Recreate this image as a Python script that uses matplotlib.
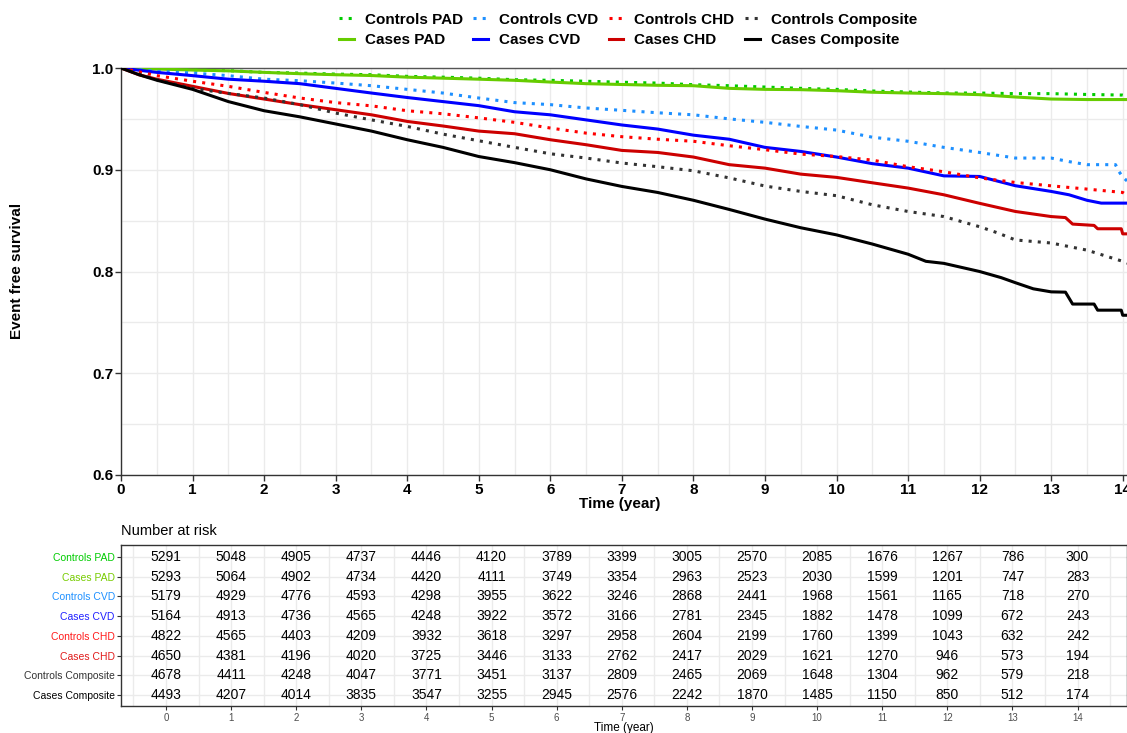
import numpy as np
import matplotlib
matplotlib.use("Agg")
import matplotlib.pyplot as plt
from matplotlib.lines import Line2D

plt.rcParams['font.family'] = ['Liberation Sans', 'DejaVu Sans']

# ---------------- data ----------------
series_names = ["Controls PAD", "Cases PAD", "Controls CVD", "Cases CVD",
                "Controls CHD", "Cases CHD", "Controls Composite", "Cases Composite"]

t_controls_pad = [0, 0.5, 1, 1.5, 2, 2.5, 3, 3.5, 4, 4.5, 5, 5.5, 6, 6.5, 7, 7.5, 8, 8.5, 9, 9.5,
                  10, 10.5, 11, 11.5, 12, 12.5, 13, 13.5, 14, 14.06]
s_controls_pad = [1.0, 0.999, 0.998, 0.9974, 0.9957, 0.995, 0.994, 0.9934, 0.9918, 0.991, 0.990,
                  0.9885, 0.9879, 0.987, 0.986, 0.9852, 0.9836, 0.9826, 0.9813, 0.980, 0.979,
                  0.9774, 0.9764, 0.9754, 0.9754, 0.9748, 0.9748, 0.974, 0.9734, 0.9725]

t_cases_pad = [0, 0.5, 1, 1.5, 2, 2.5, 3, 3.5, 4, 4.5, 5, 5.5, 6, 6.5, 7, 7.5, 8, 8.5, 9, 9.5,
               10, 10.5, 11, 11.5, 12, 12.5, 13, 13.5, 14, 14.06]
s_cases_pad = [1.0, 0.999, 0.998, 0.9972, 0.9957, 0.9944, 0.9934, 0.9926, 0.991, 0.990, 0.989,
               0.9879, 0.9862, 0.9846, 0.9838, 0.983, 0.9826, 0.980, 0.979, 0.9787, 0.9777,
               0.9762, 0.9754, 0.9748, 0.9738, 0.9715, 0.9695, 0.969, 0.969, 0.969]

t_controls_cvd = [0, 0.5, 1, 1.5, 2, 2.5, 3, 3.5, 4, 4.5, 5, 5.5, 6, 6.5, 7, 7.5, 8, 8.5, 9, 9.5,
                  10, 10.5, 11, 11.5, 12, 12.5, 13, 13.25, 13.5, 13.9, 13.95, 14.0, 14.06]
s_controls_cvd = [1.0, 0.9967, 0.995, 0.9925, 0.989, 0.9875, 0.9852, 0.9826, 0.979, 0.9754, 0.9705,
                  0.966, 0.964, 0.9607, 0.9584, 0.956, 0.954, 0.950, 0.9466, 0.9426, 0.939,
                  0.932, 0.928, 0.922, 0.917, 0.9115, 0.9115, 0.908, 0.905, 0.905, 0.898, 0.893, 0.889]

t_cases_cvd = [0, 0.5, 1, 1.5, 2, 2.5, 3, 3.5, 4, 4.5, 5, 5.5, 6, 6.5, 7, 7.5, 8, 8.5, 9, 9.5,
               10, 10.5, 11, 11.5, 12, 12.5, 13, 13.25, 13.5, 13.7, 14.06]
s_cases_cvd = [1.0, 0.9957, 0.9925, 0.989, 0.987, 0.9846, 0.980, 0.9754, 0.971, 0.967, 0.963,
               0.957, 0.954, 0.949, 0.944, 0.940, 0.934, 0.930, 0.922, 0.918, 0.9125,
               0.906, 0.9016, 0.894, 0.8934, 0.8843, 0.8787, 0.8754, 0.870, 0.8672, 0.8672]

t_controls_chd = [0, 0.5, 1, 1.5, 2, 2.5, 3, 3.5, 4, 4.5, 5, 5.5, 6, 6.5, 7, 7.5, 8, 8.5, 9, 9.5,
                  10, 10.5, 11, 11.5, 12, 12.5, 13, 13.5, 14, 14.06]
s_controls_chd = [1.0, 0.9925, 0.987, 0.982, 0.976, 0.9705, 0.966, 0.9628, 0.958, 0.955, 0.951,
                  0.9466, 0.941, 0.936, 0.9325, 0.930, 0.928, 0.9236, 0.9197, 0.9154, 0.913,
                  0.9095, 0.903, 0.898, 0.892, 0.8875, 0.8842, 0.881, 0.8777, 0.875]

t_cases_chd = [0, 0.25, 0.5, 1, 1.5, 2, 2.5, 3, 3.5, 4, 4.5, 5, 5.5, 6, 6.5, 7, 7.5, 8, 8.5, 9,
               9.5, 10, 10.5, 11, 11.5, 12, 12.5, 13, 13.2, 13.3, 13.6, 13.65, 13.98, 14.0, 14.06]
s_cases_chd = [1.0, 0.9934, 0.989, 0.982, 0.975, 0.9695, 0.964, 0.959, 0.954, 0.9475, 0.943,
               0.938, 0.9354, 0.9295, 0.9246, 0.919, 0.917, 0.9125, 0.905, 0.9016, 0.8957,
               0.8925, 0.8872, 0.882, 0.8754, 0.867, 0.859, 0.854, 0.853, 0.8466, 0.8453,
               0.842, 0.842, 0.837, 0.837]

t_controls_comp = [0, 0.25, 0.5, 1, 1.5, 2, 2.5, 3, 3.5, 4, 4.5, 5, 5.5, 6, 6.5, 7, 7.5, 8, 8.5,
                   9, 9.5, 10, 10.5, 11, 11.5, 12, 12.25, 12.5, 13, 13.5, 14, 14.06]
s_controls_comp = [1.0, 0.994, 0.9885, 0.980, 0.975, 0.9705, 0.964, 0.9557, 0.949, 0.9426, 0.935,
                   0.9285, 0.922, 0.9157, 0.9115, 0.9066, 0.903, 0.899, 0.892, 0.884, 0.8787,
                   0.8745, 0.8656, 0.859, 0.854, 0.844, 0.838, 0.831, 0.828, 0.821, 0.810, 0.808]

t_cases_comp = [0, 0.25, 0.5, 1, 1.5, 2, 2.5, 3, 3.5, 4, 4.5, 5, 5.5, 6, 6.5, 7, 7.5, 8, 8.5, 9,
                9.5, 10, 10.5, 11, 11.25, 11.5, 12, 12.3, 12.5, 12.75, 13.0, 13.2, 13.3, 13.6,
                13.65, 13.98, 14.0, 14.06]
s_cases_comp = [1.0, 0.9934, 0.988, 0.979, 0.967, 0.958, 0.952, 0.945, 0.938, 0.9295, 0.922,
                0.913, 0.907, 0.900, 0.891, 0.8836, 0.8777, 0.870, 0.861, 0.8515, 0.843, 0.836,
                0.827, 0.817, 0.810, 0.808, 0.800, 0.794, 0.789, 0.783, 0.780, 0.7797, 0.768,
                0.768, 0.762, 0.762, 0.757, 0.757]

risk_times = list(range(15))
risk_controls_pad = [5291, 5048, 4905, 4737, 4446, 4120, 3789, 3399, 3005, 2570, 2085, 1676, 1267, 786, 300]
risk_cases_pad = [5293, 5064, 4902, 4734, 4420, 4111, 3749, 3354, 2963, 2523, 2030, 1599, 1201, 747, 283]
risk_controls_cvd = [5179, 4929, 4776, 4593, 4298, 3955, 3622, 3246, 2868, 2441, 1968, 1561, 1165, 718, 270]
risk_cases_cvd = [5164, 4913, 4736, 4565, 4248, 3922, 3572, 3166, 2781, 2345, 1882, 1478, 1099, 672, 243]
risk_controls_chd = [4822, 4565, 4403, 4209, 3932, 3618, 3297, 2958, 2604, 2199, 1760, 1399, 1043, 632, 242]
risk_cases_chd = [4650, 4381, 4196, 4020, 3725, 3446, 3133, 2762, 2417, 2029, 1621, 1270, 946, 573, 194]
risk_controls_comp = [4678, 4411, 4248, 4047, 3771, 3451, 3137, 2809, 2465, 2069, 1648, 1304, 962, 579, 218]
risk_cases_comp = [4493, 4207, 4014, 3835, 3547, 3255, 2945, 2576, 2242, 1870, 1485, 1150, 850, 512, 174]

# ---------------- styles ----------------
line_colors = ["#00CC00", "#66CC00", "#1E90FF", "#0000FF",
               "#FF0000", "#CC0000", "#333333", "#000000"]
label_colors = ["#00CC00", "#77CC00", "#1E90FF", "#2020FF",
                "#FF1A1A", "#E01A1A", "#333333", "#000000"]
dotted = (0, (1, 2))
styles = [dotted, "-", dotted, "-", dotted, "-", dotted, "-"]

curves = [(t_controls_pad, s_controls_pad), (t_cases_pad, s_cases_pad),
          (t_controls_cvd, s_controls_cvd), (t_cases_cvd, s_cases_cvd),
          (t_controls_chd, s_controls_chd), (t_cases_chd, s_cases_chd),
          (t_controls_comp, s_controls_comp), (t_cases_comp, s_cases_comp)]
risks = [risk_controls_pad, risk_cases_pad, risk_controls_cvd, risk_cases_cvd,
         risk_controls_chd, risk_cases_chd, risk_controls_comp, risk_cases_comp]

W, H = 1127, 733
fig = plt.figure(figsize=(W / 100, H / 100), dpi=100)

# ---------------- main survival plot ----------------
ax = fig.add_axes([121 / W, 1 - 475 / H, (W - 121) / W, (475 - 68) / H])
lw = 2.2
for (t, s), c, ls in zip(curves, line_colors, styles):
    ax.plot(t, s, color=c, linestyle=ls, linewidth=lw, dash_capstyle='butt',
            solid_capstyle='butt', zorder=3)

ax.set_xlim(0, (W - 121) / 71.55)
ax.set_ylim(0.6, 1.0)
ax.set_xticks(np.arange(0, 15, 1))
ax.set_xticks(np.arange(0.5, 14.5, 1), minor=True)
ax.set_yticks([0.6, 0.7, 0.8, 0.9, 1.0])
ax.set_yticks([0.65, 0.75, 0.85, 0.95], minor=True)
ax.set_yticklabels(["0.6", "0.7", "0.8", "0.9", "1.0"])
ax.grid(which='both', color='#EBEBEB', linewidth=1.0, zorder=0)
ax.set_axisbelow(True)
ax.tick_params(axis='both', which='major', labelsize=11, length=4, width=1,
               color='#333333', pad=1.5)
ax.tick_params(axis='both', which='minor', length=0)
for lab in ax.get_xticklabels() + ax.get_yticklabels():
    lab.set_fontweight('bold')
for side in ['left', 'bottom']:
    ax.spines[side].set_color('#333333')
    ax.spines[side].set_linewidth(1.0)
ax.spines['top'].set_color('#555555')
ax.spines['top'].set_linewidth(1.0)
ax.spines['right'].set_visible(False)

fig.text(620 / W, 1 - 504 / H, "Time (year)", ha='center', va='center',
         fontsize=11, fontweight='bold')
fig.text(17 / W, 1 - 271 / H, "Event free survival", ha='center', va='center',
         fontsize=11, fontweight='bold', rotation=90)

# ---------------- legend ----------------
handles = [Line2D([0], [0], color=c, linestyle=ls, linewidth=lw, dash_capstyle='butt')
           for c, ls in zip(line_colors, styles)]
leg = fig.legend(handles, series_names, ncol=4, loc='center',
                 bbox_to_anchor=(628 / W, 1 - 30 / H), frameon=False,
                 prop={'size': 11, 'weight': 'bold'}, handlelength=0.95,
                 handletextpad=0.72, columnspacing=0.7, labelspacing=0.42,
                 borderpad=0, borderaxespad=0)

# ---------------- risk table ----------------
ax2 = fig.add_axes([121 / W, 1 - 706 / H, (W - 121) / W, (706 - 545) / H])
ax2.set_xlim(-0.691, 14.76)
ax2.set_ylim(0.44, 8.61)
nrows = len(series_names)
for i, row in enumerate(risks):
    yv = nrows - i
    for tt, n in zip(risk_times, row):
        ax2.text(tt, yv, str(n), ha='center', va='center', fontsize=10, color='black')

ax2.set_yticks(np.arange(nrows, 0, -1))
ax2.set_yticklabels(series_names)
for lab, c in zip(ax2.get_yticklabels(), label_colors):
    lab.set_color(c)
ax2.set_xticks(risk_times)
ax2.set_xticks(np.arange(-0.5, 15, 1), minor=True)
ax2.grid(which='both', axis='x', color='#EBEBEB', linewidth=1.0)
ax2.grid(which='major', axis='y', color='#EBEBEB', linewidth=1.0)
ax2.set_axisbelow(True)
ax2.tick_params(axis='y', labelsize=7.5, length=3, width=0.8, color='#333333', pad=1.5)
ax2.tick_params(axis='x', labelsize=7, length=3, width=0.8, color='#333333',
                labelcolor='#4D4D4D', pad=2)
ax2.tick_params(which='minor', length=0)
for side in ['left', 'bottom', 'top', 'right']:
    ax2.spines[side].set_color('#333333')
    ax2.spines[side].set_linewidth(1.0)

fig.text(121 / W, 1 - 531 / H, "Number at risk", ha='left', va='center', fontsize=10.5)
fig.text(624 / W, 1 - 728 / H, "Time (year)", ha='center', va='center', fontsize=8.5)

fig.savefig("out.png", dpi=100)
